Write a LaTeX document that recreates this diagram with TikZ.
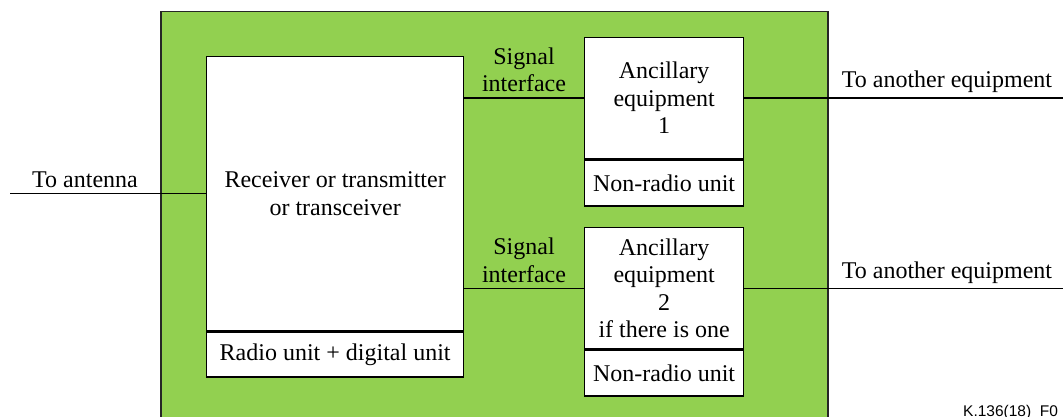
\documentclass[tikz,border=0pt]{standalone}
\usepackage{fontspec}
\setmainfont{Liberation Serif}
\newfontfamily\labelsans{Liberation Sans}
\definecolor{framegreen}{HTML}{92D050}
\begin{document}
\begin{tikzpicture}[x=1pt,y=-1pt,
  txt/.style={font=\fontsize{24}{27.5}\selectfont, align=center, inner sep=0pt},
  box/.style={draw=black, fill=white, line width=1.3pt, inner sep=0pt, txt},
  wire/.style={draw=black, line width=1.3pt}]
\useasboundingbox (0,0) rectangle (1063,417);
% green frame (bottom edge lies below the visible area)
\node[draw=black!85, fill=framegreen, line width=1.5pt, minimum width=667pt, minimum height=440pt, anchor=north west, inner sep=0pt] (frame) at (160,11) {};
% main unit
\node[box, minimum width=257pt, minimum height=274pt, anchor=north west] (rx) at (206,56) {Receiver or transmitter\\or transceiver};
\node[box, minimum width=257pt, minimum height=45pt, anchor=north] (rxlow) at (rx.south) {Radio unit + digital unit};
% ancillary 1
\node[box, minimum width=159pt, minimum height=121pt, anchor=north west] (anc1) at (584,37) {Ancillary\\equipment\\1};
\node[box, minimum width=159pt, minimum height=46pt, anchor=north] (anc1low) at (anc1.south) {Non-radio unit};
% ancillary 2
\node[box, minimum width=159pt, minimum height=121pt, anchor=north west] (anc2) at (584,227) {Ancillary\\equipment\\2\\if there is one};
\node[box, minimum width=159pt, minimum height=46pt, anchor=north] (anc2low) at (anc2.south) {Non-radio unit};
% external ends
\coordinate (ant) at (10,0);
\coordinate (out) at (1063,0);
% connectors
\draw[wire] (ant |- rx.west) -- (rx.west);
\draw[wire] (anc1.west -| rx.east) -- (anc1.west);
\draw[wire] (anc2.west -| rx.east) -- (anc2.west);
\draw[wire] (anc1.east) -- (anc1.east -| out);
\draw[wire] (anc2.east) -- (anc2.east -| out);
% labels
\node[txt, anchor=base] (lant) at (85,187) {To antenna};
\node[txt, anchor=base] (lsig1) at (524,92) {Signal\\interface};
\node[txt, anchor=base] (lsig2) at (524,282) {Signal\\interface};
\node[txt, anchor=base] (lout1) at (947,88) {To another equipment};
\node[txt, anchor=base] (lout2) at (947,278) {To another equipment};
\node[inner sep=0pt, anchor=base west, font=\labelsans\fontsize{15.5}{18}\selectfont] (fig) at (963,416) {K.136(18)\_F0};
\end{tikzpicture}
\end{document}
